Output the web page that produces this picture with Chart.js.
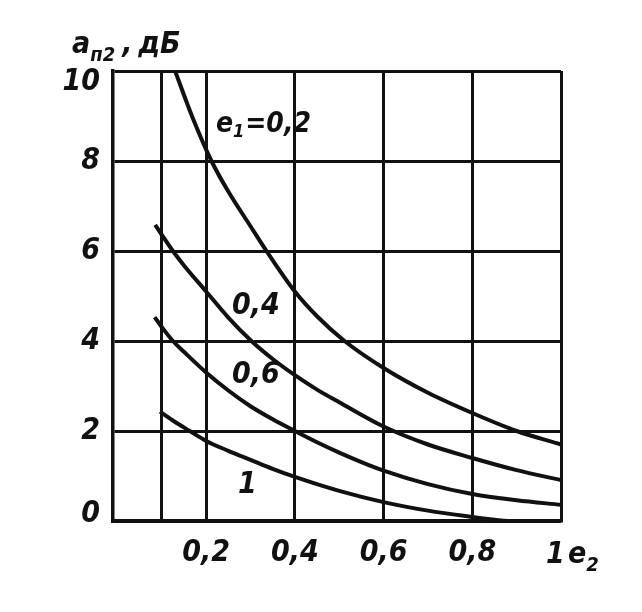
<!DOCTYPE html>
<html>
<head>
<meta charset="utf-8">
<script src="https://cdn.jsdelivr.net/npm/chart.js@4/dist/chart.umd.min.js"></script>
<style>
    html, body { margin: 0; padding: 0; background: #fff; }
    #wrap { width: 642px; height: 612px; }
</style>
</head>
<body>
<div id="wrap"><canvas id="chart" width="642" height="612"></canvas></div>
<script>
// curves a_n2(e2) for several e1
const e2ForE1_02 = [0.13, 0.17, 0.212, 0.25, 0.3, 0.336, 0.4, 0.45, 0.512, 0.6, 0.7, 0.8, 0.9, 1.0];
const aForE1_02 = [10, 8.95, 8.0, 7.32, 6.55, 6.0, 5.1, 4.55, 4.0, 3.4, 2.85, 2.4, 2.0, 1.7];

const e2ForE1_04 = [0.085, 0.1, 0.125, 0.15, 0.2, 0.25, 0.302, 0.35, 0.4, 0.45, 0.5, 0.6, 0.7, 0.8, 0.9, 1.0];
const aForE1_04 = [6.58, 6.36, 6.0, 5.68, 5.1, 4.52, 4.0, 3.6, 3.24, 2.92, 2.64, 2.1, 1.7, 1.4, 1.13, 0.91];

const e2ForE1_06 = [0.084, 0.1, 0.125, 0.15, 0.2, 0.25, 0.3, 0.35, 0.4, 0.45, 0.5, 0.55, 0.6, 0.7, 0.8, 0.9, 1.0];
const aForE1_06 = [4.53, 4.31, 4.0, 3.76, 3.3, 2.9, 2.55, 2.26, 2.0, 1.75, 1.52, 1.31, 1.12, 0.82, 0.6, 0.46, 0.36];

const e2ForE1_1 = [0.096, 0.13, 0.163, 0.2, 0.25, 0.3, 0.35, 0.4, 0.5, 0.6, 0.7, 0.8, 0.85, 0.88, 1.0];
const aForE1_1 = [2.43, 2.2, 2.0, 1.78, 1.56, 1.36, 1.16, 0.98, 0.67, 0.42, 0.23, 0.09, 0.03, 0.0, 0.0];

const xTickValues = [0.1, 0.2, 0.4, 0.6, 0.8, 1.0];
const xTickLabels = ['', '0,2', '0,4', '0,6', '0,8', ''];
const yTickValues = [0, 2, 4, 6, 8, 10];
// end labels sit inside the frame, drawn by the plugin
const yEndLabels = [['10', 10, 11], ['0', 0, -7]];

// curve labels: [main, subscript, rest, e2, a]
const curveLabels = [
    ['e', '1', '=0,2', 0.222, 8.8],
    ['0,4', '', '', 0.258, 4.78],
    ['0,6', '', '', 0.258, 3.24],
    ['1', '', '', 0.272, 0.8]
];

const FONT_FAMILY = '"Liberation Sans Narrow", "DejaVu Sans Condensed", "Roboto Condensed", sans-serif';
const INK = '#111';

function font(size) {
    return 'italic bold ' + size + 'px ' + FONT_FAMILY;
}

function toPoints(xs, ys) {
    return xs.map((x, i) => ({x: x, y: ys[i]}));
}

function curve(xs, ys) {
    return {
        data: toPoints(xs, ys),
        borderColor: INK,
        borderWidth: 4,
        pointRadius: 0,
        fill: false,
        cubicInterpolationMode: 'monotone'
    };
}

/**
 * draws text with an optional subscript, returns the x after it
 */
function drawSub(ctx, x, y, main, sub, rest, size) {
    ctx.font = font(size);
    ctx.fillText(main, x, y);
    x += ctx.measureText(main).width;
    if (sub) {
        ctx.font = font(Math.round(size * 0.66));
        ctx.fillText(sub, x, y + size * 0.25);
        x += ctx.measureText(sub).width + 1;
    }
    if (rest) {
        ctx.font = font(size);
        ctx.fillText(rest, x, y);
        x += ctx.measureText(rest).width;
    }
    return x;
}

const textPlugin = {
    id: 'texts',
    afterDraw(chart) {
        const ctx = chart.ctx;
        const xs = chart.scales.x, ys = chart.scales.y;
        ctx.save();
        ctx.fillStyle = INK;
        ctx.textBaseline = 'middle';
        ctx.textAlign = 'left';
        curveLabels.forEach(l => {
            drawSub(ctx, xs.getPixelForValue(l[3]), ys.getPixelForValue(l[4]), l[0], l[1], l[2], l[1] ? 28 : 30);
        });

        ctx.textAlign = 'right';
        ctx.font = font(30);
        yEndLabels.forEach(l => {
            ctx.fillText(l[0], xs.left - 13, ys.getPixelForValue(l[1]) + l[2]);
        });

        // axis names
        ctx.textAlign = 'left';
        ctx.textBaseline = 'alphabetic';
        let x = drawSub(ctx, 72, 53, 'a', 'п2', '', 30);
        ctx.font = font(30);
        ctx.fillText(',', x + 6, 53);
        ctx.fillText('дБ', x + 22, 53);

        const right = xs.getPixelForValue(1);
        const base = chart.chartArea.bottom + 42;
        ctx.font = font(30);
        ctx.fillText('1', right - 15, base);
        drawSub(ctx, right + 7, base, 'e', '2', '', 30);
        ctx.restore();
    }
};

const whiteBg = {
    id: 'whiteBg',
    beforeDraw(chart) {
        const ctx = chart.ctx;
        ctx.save();
        ctx.fillStyle = '#fff';
        ctx.fillRect(0, 0, chart.width, chart.height);
        ctx.restore();
    }
};

new Chart(document.getElementById('chart'), {
    type: 'line',
    data: {
        datasets: [
            curve(e2ForE1_02, aForE1_02),
            curve(e2ForE1_04, aForE1_04),
            curve(e2ForE1_06, aForE1_06),
            curve(e2ForE1_1, aForE1_1)
        ]
    },
    options: {
        responsive: false,
        animation: false,
        devicePixelRatio: 1,
        layout: {padding: {top: 71, right: 81, left: 0, bottom: 0}},
        plugins: {
            legend: {display: false},
            tooltip: {enabled: false}
        },
        scales: {
            x: {
                type: 'linear',
                min: -0.01,
                max: 1,
                afterBuildTicks: scale => {
                    scale.ticks = xTickValues.map(v => ({value: v}));
                },
                afterFit: scale => {
                    scale.height = 91;
                },
                grid: {color: INK, lineWidth: 3, drawTicks: false},
                border: {color: INK, width: 3.5},
                ticks: {
                    color: INK,
                    padding: 14,
                    maxRotation: 0,
                    autoSkip: false,
                    font: {family: FONT_FAMILY, size: 30, style: 'italic', weight: 'bold'},
                    callback: (v) => {
                        const i = xTickValues.indexOf(v);
                        return i < 0 ? '' : xTickLabels[i];
                    }
                }
            },
            y: {
                type: 'linear',
                min: 0,
                max: 10,
                afterBuildTicks: scale => {
                    scale.ticks = yTickValues.map(v => ({value: v}));
                },
                afterFit: scale => {
                    scale.width = 113;
                },
                grid: {color: INK, lineWidth: 3, drawTicks: false},
                border: {color: INK, width: 3.5},
                ticks: {
                    color: INK,
                    padding: 13,
                    font: {family: FONT_FAMILY, size: 30, style: 'italic', weight: 'bold'},
                    callback: v => (v === 0 || v === 10) ? '' : String(v)
                }
            }
        }
    },
    plugins: [whiteBg, textPlugin]
});
</script>
</body>
</html>
